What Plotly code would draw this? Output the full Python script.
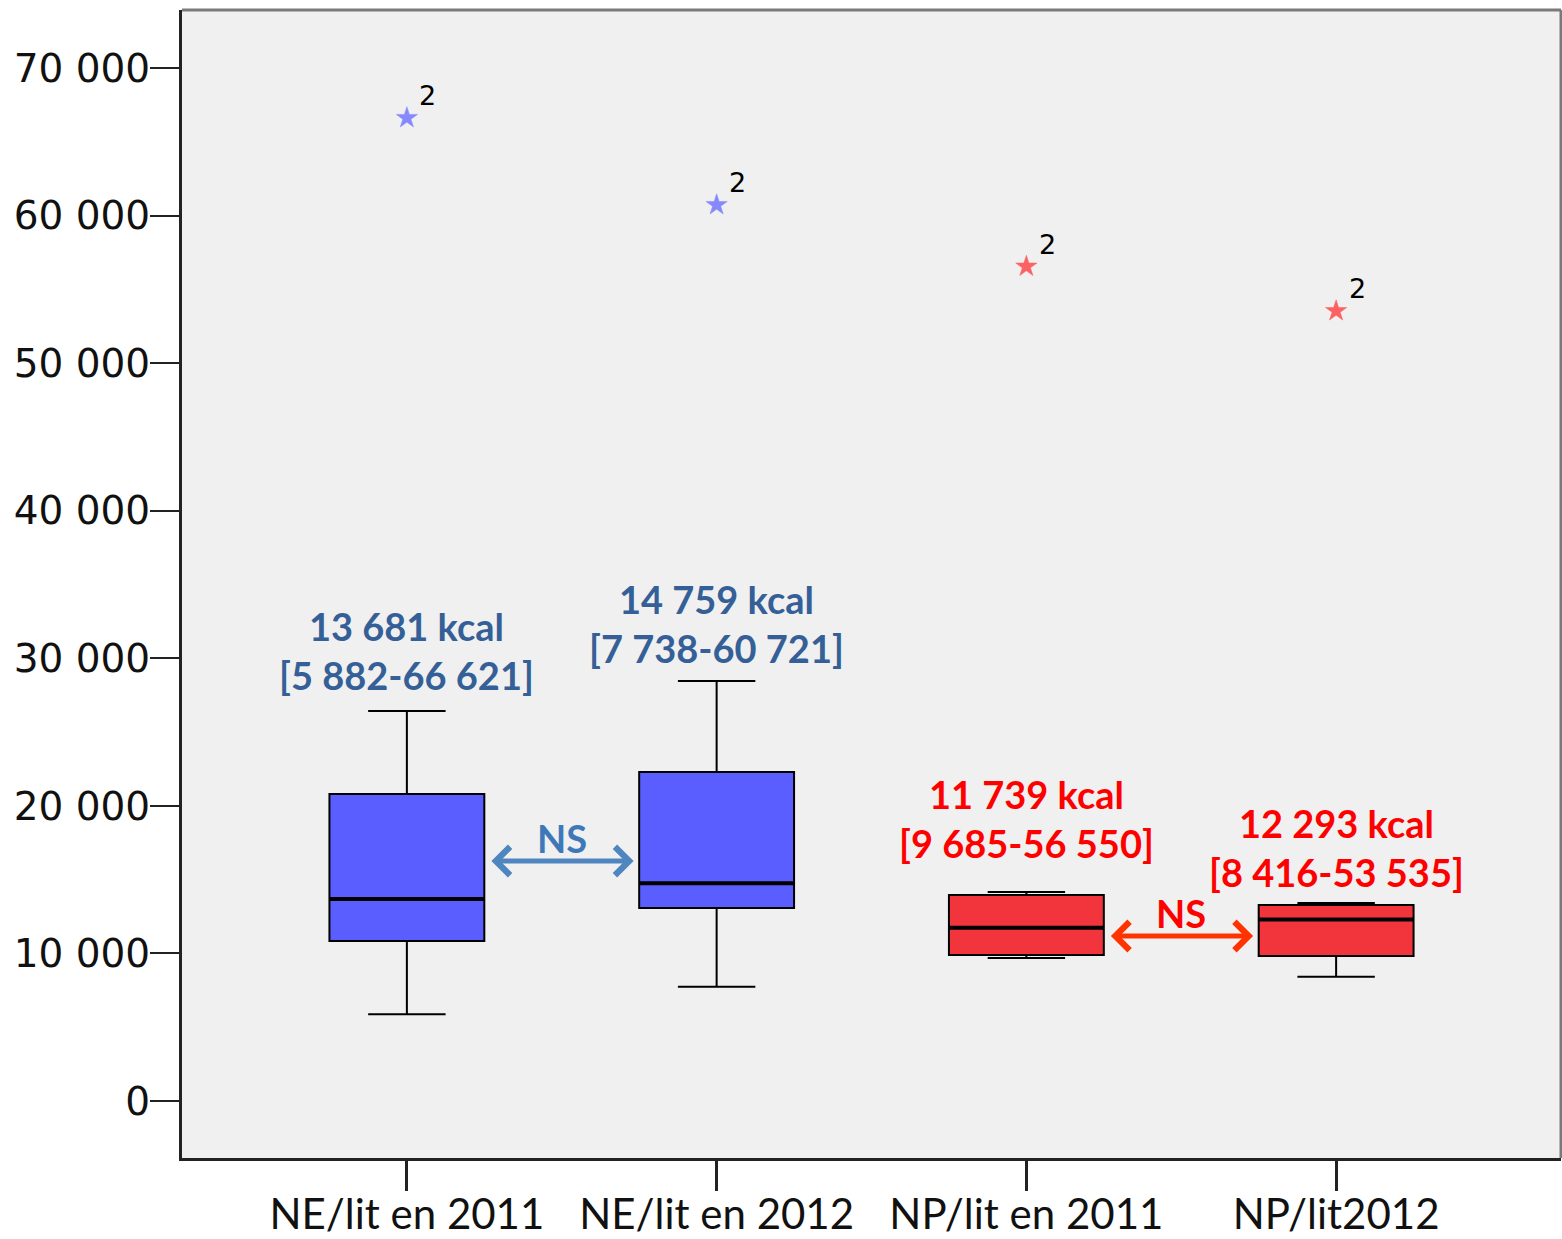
import plotly.graph_objects as go

# Energy per bed (kcal) – summary statistics for each group
categories = ["NE/lit en 2011", "NE/lit en 2012", "NP/lit en 2011", "NP/lit2012"]
medians = [13681, 14759, 11739, 12293]
q1 = [10842, 13079, 9890, 9826]
q3 = [20803, 22294, 13960, 13282]
lower_whisker = [5882, 7738, 9685, 8416]
upper_whisker = [26428, 28461, 14163, 13417]
outliers = [66621, 60721, 56550, 53535]
outlier_ids = ["2", "2", "2", "2"]

y_tick_values = [0, 10000, 20000, 30000, 40000, 50000, 60000, 70000]
y_tick_labels = ["0", "10 000", "20 000", "30 000", "40 000", "50 000", "60 000", "70 000"]

# styling
fills = ["#5B5EFF", "#5B5EFF", "#F2343C", "#F2343C"]
star_colors = ["#7478FF", "#7478FF", "#FF4A4A", "#FF4A4A"]
label_colors = ["#356097", "#356097", "#FF0000", "#FF0000"]
label_shift = [11, 8, 24, 6]
BOX_W = 0.5

fig = go.Figure()

for i, cat in enumerate(categories):
    fig.add_trace(go.Box(
        x=[i], q1=[q1[i]], median=[medians[i]], q3=[q3[i]],
        lowerfence=[lower_whisker[i]], upperfence=[upper_whisker[i]],
        width=BOX_W, whiskerwidth=0.5, boxpoints=False,
        fillcolor=fills[i], line=dict(color="black", width=2),
        showlegend=False, hoverinfo="skip",
    ))
    # thicker median bar
    fig.add_trace(go.Scatter(
        x=[i - BOX_W / 2, i + BOX_W / 2], y=[medians[i], medians[i]],
        mode="lines", line=dict(color="black", width=4),
        showlegend=False, hoverinfo="skip",
    ))
    # extreme value
    fig.add_trace(go.Scatter(
        x=[i], y=[outliers[i]], mode="markers",
        marker=dict(symbol="star", size=16, color=star_colors[i], opacity=0.85,
                    line=dict(color=star_colors[i], width=0.5)),
        showlegend=False, hoverinfo="skip",
    ))
    fig.add_annotation(
        x=i, y=outliers[i], text=outlier_ids[i], showarrow=False,
        xshift=21, yshift=22, font=dict(family="DejaVu Sans", size=27, color="black"),
    )
    # median and range label
    fig.add_annotation(
        x=i, y=upper_whisker[i], yanchor="bottom", yshift=label_shift[i],
        text=f"{medians[i]:,} kcal".replace(",", " ")
        + "<br>" + f"[{lower_whisker[i]:,}-{outliers[i]:,}]".replace(",", " "),
        showarrow=False,
        font=dict(family="Lato", size=38, color=label_colors[i], weight="bold"),
    )

# NS comparison arrows between years
comparisons = [
    dict(a=0, b=1, y=16263, line="#4F86C0", text="#3F78B8"),
    dict(a=2, b=3, y=11181, line="#FF3300", text="#FF0000"),
]
for c in comparisons:
    fig.add_annotation(
        x=c["b"] - BOX_W / 2 - 0.018, y=c["y"],
        ax=c["a"] + BOX_W / 2 + 0.018, ay=c["y"],
        xref="x", yref="y", axref="x", ayref="y",
        text="", showarrow=True, arrowhead=4, startarrowhead=4,
        arrowside="end+start", arrowwidth=5, arrowsize=1.1,
        startarrowsize=1.1, arrowcolor=c["line"],
    )
    fig.add_annotation(
        x=(c["a"] + c["b"]) / 2, y=c["y"], yanchor="bottom", yshift=-2,
        text="NS", showarrow=False,
        font=dict(family="Lato", size=38, color=c["text"], weight="bold"),
    )

# light frame on top and right edges
fig.add_shape(type="line", xref="paper", yref="paper", x0=0, x1=1, y0=1, y1=1,
              line=dict(color="#7A7A7A", width=3))
fig.add_shape(type="line", xref="paper", yref="paper", x0=1, x1=1, y0=0, y1=1,
              line=dict(color="#7A7A7A", width=3))

fig.update_layout(
    width=1562, height=1239,
    margin=dict(l=182, r=1, t=10, b=81),
    paper_bgcolor="white", plot_bgcolor="#F0F0F0",
    showlegend=False,
)
fig.update_xaxes(
    range=[-0.726, 3.726], tickvals=list(range(len(categories))), ticktext=categories,
    showgrid=False, zeroline=False, showline=True, linecolor="#222222", linewidth=3,
    ticks="outside", ticklen=30, tickwidth=3, tickcolor="#222222",
    tickfont=dict(family="Lato", size=42, color="#111111"), automargin=False,
    ticklabelstandoff=-12,
)
fig.update_yaxes(
    range=[-3863, 73930], tickvals=y_tick_values, ticktext=y_tick_labels,
    showgrid=False, zeroline=False, showline=True, linecolor="#222222", linewidth=3,
    ticks="outside", ticklen=29, tickwidth=2, tickcolor="#222222",
    tickfont=dict(family="DejaVu Sans", size=39, color="#111111"), automargin=False,
    ticklabelstandoff=-8,
)

fig.write_html("out.html")
